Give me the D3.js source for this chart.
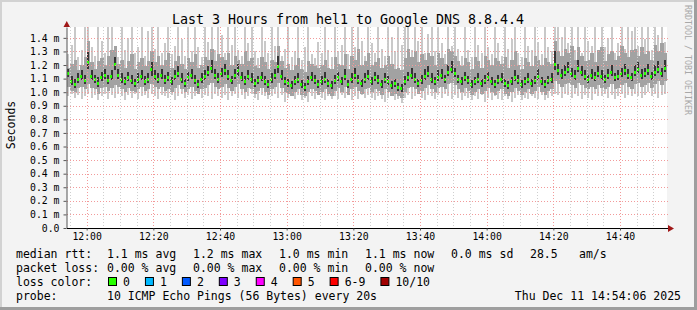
<!DOCTYPE html>
<html>
<head>
<meta charset="utf-8">
<script src="https://cdn.jsdelivr.net/npm/d3@7"></script>
<style>
  body { margin: 0; background: #fff; }
  svg text { font-family: "DejaVu Sans Mono", monospace; fill: #000; }
</style>
</head>
<body>
<svg id="chart" width="697" height="310"></svg>
<script>
// one point per minute starting 11:54:06, values in 1/100 ms
const median = [
  114,108,106,110,112,109,122,112,110,107, 111,113,109,112,121,113,110,108,111,109,
  107,110,112,108,110,117,112,110,113,109, 111,108,112,114,110,107,111,113,109,106,
  110,112,115,118,113,110,114,116,112,109, 113,116,111,108,112,110,107,109,111,108,
  106,110,113,119,112,108,107,105,108,110, 106,104,108,111,109,106,108,110,107,105,
  109,111,108,112,106,110,113,109,107,110, 112,108,111,109,106,110,108,105,107,104,
  103,108,111,113,110,107,109,112,114,110, 108,111,113,110,115,117,114,110,108,111,
  109,106,108,110,107,109,111,108,106,109, 110,107,105,108,111,109,106,108,110,107,
  109,112,108,106,109,110,121,116,113,115, 117,114,112,118,115,112,110,113,111,114,
  112,110,113,115,111,112,114,116,113,111, 115,117,113,114,116,112,115,117,114,118
];
const pingMax = [
  128,135,148,126,131,148,148,133,127,148, 138,129,148,148,134,126,148,131,140,148,
  129,133,148,127,145,148,132,148,129,136, 148,128,134,148,139,127,148,130,148,133,
  126,148,137,148,131,148,142,129,148,135, 148,131,127,148,136,148,130,125,148,138,
  129,148,134,148,127,132,148,126,130,148, 124,133,148,128,125,137,129,148,131,126,
  148,130,135,148,128,148,133,148,138,127, 148,136,129,148,132,127,148,141,130,148,
  135,148,148,131,148,138,148,129,143,148, 130,148,136,128,148,134,148,132,127,148,
  131,126,148,135,129,148,133,128,148,136, 127,148,132,139,148,129,126,148,134,131,
  148,137,128,148,133,130,148,148,141,148, 136,148,131,148,129,148,138,134,148,130,
  148,133,140,148,129,136,148,132,148,145, 148,134,148,139,148,131,148,142,148,137
];
const pingMin = [
  97,99,96,98,95,97,99,96,98,94, 97,99,95,98,96,99,97,94,98,96,
  99,95,97,98,96,99,97,95,98,97, 96,98,94,97,99,96,98,95,97,99,
  96,98,97,95,99,97,96,98,94,97, 99,96,98,95,97,99,96,94,98,97,
  95,97,99,96,98,93,96,97,95,98, 94,96,93,97,95,98,96,94,97,95,
  97,95,98,96,99,94,97,95,98,96, 98,96,94,97,95,93,96,98,94,95,
  92,96,98,95,97,99,96,94,98,97, 95,98,96,99,97,95,98,96,94,97,
  96,94,97,95,98,93,96,94,97,95, 94,97,95,93,96,98,94,96,95,97,
  96,95,98,94,96,97,99,98,96,99, 98,96,99,97,95,98,96,94,99,97,
  97,99,96,98,95,97,99,96,98,97, 99,97,96,98,100,97,99,96,98,99
];
const midHi = [
  118,121,124,116,120,126,138,122,117,123, 125,120,127,131,134,121,124,118,123,128,
  117,122,125,119,123,130,122,127,120,124, 129,118,123,127,121,117,125,122,128,118,
  120,126,124,132,123,128,126,124,129,120, 127,124,121,130,123,125,119,118,126,122,
  117,124,122,134,123,118,121,116,120,125, 117,115,123,121,119,118,120,124,118,117,
  126,121,120,128,117,127,124,132,120,123, 129,120,122,125,118,120,127,121,117,118,
  116,125,132,126,130,122,128,124,129,127, 120,129,125,121,132,130,127,123,119,125,
  122,117,126,123,118,127,124,120,125,123, 121,126,118,124,130,120,117,125,122,119,
  127,124,120,125,122,121,138,130,127,132, 129,134,124,133,127,123,124,129,122,131,
  133,123,128,130,124,127,134,129,126,131, 132,127,133,128,130,124,135,130,136,129
];
const midLo = [
  104,101,100,103,104,102,106,103,102,99, 103,104,101,103,105,104,102,100,103,101,
  100,102,104,101,102,106,104,102,104,101, 102,100,103,105,102,100,102,104,101,99,
  102,103,105,107,104,102,104,106,103,101, 104,106,102,100,103,102,99,101,103,100,
  98,102,104,107,103,100,99,97,100,102, 98,97,100,102,101,98,100,102,99,97,
  101,103,100,104,98,102,104,101,99,102, 103,100,102,101,98,102,100,97,99,97,
  96,100,103,104,102,99,101,103,105,102, 100,103,104,102,106,107,105,102,100,103,
  101,98,100,102,99,101,103,100,98,101, 102,99,97,100,103,101,98,100,102,99,
  101,104,100,98,101,102,108,106,104,106, 107,105,103,107,105,103,102,104,102,105,
  103,102,104,106,102,103,105,107,104,102, 106,107,104,105,107,103,106,108,105,108
];
const innerHi = [
  117,112,110,114,116,113,130,116,113,111, 115,117,113,116,126,117,114,111,115,113,
  110,114,116,112,114,122,116,114,117,113, 115,111,116,119,114,110,115,117,113,109,
  114,116,119,124,117,114,118,121,116,112, 117,121,115,112,116,114,110,112,115,112,
  109,114,117,127,116,111,110,108,112,114, 109,107,112,115,113,109,112,115,110,108,
  113,115,111,117,109,114,118,113,110,114, 116,111,115,113,109,114,112,108,110,107,
  106,112,115,118,114,110,113,117,119,114, 111,116,117,113,120,123,118,113,111,115,
  112,109,111,114,110,113,115,111,109,113, 114,110,108,111,116,113,109,111,114,110,
  112,117,111,109,112,114,130,121,117,120, 122,118,116,124,119,116,113,117,115,119,
  116,113,117,120,114,116,118,121,117,114, 120,122,117,118,121,115,120,123,118,124
];
const innerLo = [
  111,105,103,107,109,106,117,109,107,104, 108,110,106,109,116,110,107,105,108,106,
  104,107,109,105,107,112,109,107,110,106, 108,105,109,111,107,104,108,110,106,103,
  107,109,112,114,110,107,111,113,109,106, 110,112,108,105,109,107,104,106,108,105,
  103,107,110,114,109,105,104,102,105,107, 103,101,105,108,106,103,105,107,104,102,
  106,108,105,109,103,107,110,106,104,107, 109,105,108,106,103,107,105,102,104,101,
  100,105,108,110,107,104,106,109,111,107, 105,108,110,107,112,114,111,107,105,108,
  106,103,105,107,104,106,108,105,103,106, 107,104,102,105,108,106,103,105,107,104,
  106,109,105,103,106,107,116,113,110,112, 114,111,109,115,112,109,107,110,108,111,
  109,107,110,112,108,109,111,113,110,108, 112,114,110,111,113,109,112,114,111,115
];

const yTicks = [0, 0.1, 0.2, 0.3, 0.4, 0.5, 0.6, 0.7, 0.8, 0.9, 1.0, 1.1, 1.2, 1.3, 1.4];
const lossLabels = ["0", "1", "2", "3", "4", "5", "6-9", "10/10"];
const lossColors = ["#26ff00", "#00b8ff", "#0059ff", "#7e00ff", "#ff00ff", "#ff5500", "#ff0000", "#a10000"];
const rttStats = ["1.1 ms avg", "1.2 ms max", "1.0 ms min", "1.1 ms now", "0.0 ms sd", "28.5", "am/s"];
const lossStats = ["0.00 % avg", "0.00 % max", "0.00 % min", "0.00 % now"];

const title = "Last 3 Hours from hel1 to Google DNS 8.8.4.4";
const probeText = "10 ICMP Echo Pings (56 Bytes) every 20s";
const stamp = "Thu Dec 11 14:54:06 2025";

const startTime = new Date(2025, 11, 11, 11, 54, 6);
const endTime = new Date(2025, 11, 11, 14, 54, 6);
const stepMs = 60 * 1000;

const svg = d3.select("#chart");
const plotLeft = 67, plotRight = 667, plotTop = 27, plotBottom = 228;

let x = d3.scaleTime([startTime, endTime], [plotLeft, plotRight]);
let y = d3.scaleLinear([0, 1.48], [plotBottom, plotTop]).clamp(true);

function timeAt(i) {
    return new Date(startTime.getTime() + i * stepMs);
}

// frame
svg.append("rect").attr("width", 697).attr("height", 310).attr("fill", "#f3f3f3");
svg.append("rect").attr("x", 0).attr("y", 0).attr("width", 697).attr("height", 2).attr("fill", "#d2d2d2");
svg.append("rect").attr("x", 0).attr("y", 0).attr("width", 2).attr("height", 310).attr("fill", "#d2d2d2");
svg.append("rect").attr("x", 694).attr("y", 0).attr("width", 3).attr("height", 310).attr("fill", "#9e9e9e");
svg.append("rect").attr("x", 0).attr("y", 307).attr("width", 697).attr("height", 3).attr("fill", "#9e9e9e");

svg.append("rect")
    .attr("x", plotLeft).attr("y", plotTop)
    .attr("width", plotRight - plotLeft).attr("height", plotBottom - plotTop)
    .attr("fill", "#ffffff");

// smoke bands, outer to inner; w = stroke width inside each minute slot (null = full)
function drawBand(lo, hi, color, w) {
    let x0 = i => Math.round(x(timeAt(i)));
    let slot = i => Math.round(x(timeAt(i + 1))) - x0(i);
    svg.append("g")
        .attr("fill", color)
        .attr("shape-rendering", "crispEdges")
        .selectAll("rect")
        .data(d3.range(median.length))
        .join("rect")
        .attr("x", i => w ? x0(i) + Math.floor((slot(i) - w) / 2) : x0(i))
        .attr("width", i => w ? w : slot(i))
        .attr("y", i => y(hi[i] / 100))
        .attr("height", i => y(lo[i] / 100) - y(hi[i] / 100));
}
drawBand(pingMin, pingMax, "#c9c9c9", 2);
drawBand(midLo, midHi, "#a2a2a2", null);
drawBand(innerLo, innerHi, "#363636", 2);

// median rtt, coloured by loss (all 0 here)
svg.append("g")
    .attr("fill", lossColors[0])
    .attr("shape-rendering", "crispEdges")
    .selectAll("rect")
    .data(median)
    .join("rect")
    .attr("x", (d, i) => Math.round(x(timeAt(i))))
    .attr("width", 2)
    .attr("y", d => Math.round(y(d / 100)) - 1)
    .attr("height", 3);

// grid
let grid = svg.append("g").attr("stroke-width", 1).attr("stroke-dasharray", "1,2").attr("fill", "none");
let minorTimes = x.ticks(d3.timeMinute.every(5));
let majorTimes = x.ticks(d3.timeMinute.every(20));
grid.selectAll(".vminor")
    .data(minorTimes.filter(t => t.getMinutes() % 20 != 0))
    .join("line")
    .attr("x1", d => Math.round(x(d)) + 0.5).attr("x2", d => Math.round(x(d)) + 0.5)
    .attr("y1", plotTop).attr("y2", plotBottom)
    .attr("stroke", "#cfcfcf");
grid.selectAll(".vmajor")
    .data(majorTimes)
    .join("line")
    .attr("x1", d => Math.round(x(d)) + 0.5).attr("x2", d => Math.round(x(d)) + 0.5)
    .attr("y1", plotTop).attr("y2", plotBottom)
    .attr("stroke", "#f29a9a");
grid.selectAll(".hmajor")
    .data(yTicks.filter(d => d > 0))
    .join("line")
    .attr("x1", plotLeft).attr("x2", plotRight + 1)
    .attr("y1", d => Math.round(y(d)) + 0.5).attr("y2", d => Math.round(y(d)) + 0.5)
    .attr("stroke", "#f29a9a");

// axes
let yAxis = d3.axisLeft(y)
    .tickValues(yTicks)
    .tickSize(3)
    .tickSizeOuter(0)
    .tickPadding(4)
    .tickFormat(d => d == 0 ? "0.0" : d.toFixed(1) + " m");
svg.append("g")
    .attr("transform", `translate(${plotLeft - 0.5},0)`)
    .call(yAxis)
    .call(g => g.select(".domain").attr("stroke", "#555"))
    .call(g => g.selectAll(".tick line").attr("stroke", "#555"))
    .call(g => g.selectAll("text").attr("font-size", "9.8px").attr("font-family", "DejaVu Sans Mono"));

let xAxis = d3.axisBottom(x)
    .ticks(d3.timeMinute.every(20))
    .tickFormat(d3.timeFormat("%H:%M"))
    .tickSize(2)
    .tickSizeOuter(0)
    .tickPadding(3);
svg.append("g")
    .attr("transform", `translate(0,${plotBottom + 0.5})`)
    .call(xAxis)
    .call(g => g.select(".domain").attr("stroke", "#000").attr("d", `M${plotLeft},0H${plotRight + 2}`))
    .call(g => g.selectAll(".tick line").attr("stroke", "#555"))
    .call(g => g.selectAll("text").attr("font-size", "9.8px").attr("font-family", "DejaVu Sans Mono"));

// arrow heads
svg.append("path")
    .attr("d", `M${plotLeft - 3.5},${plotTop}L${plotLeft + 3},${plotTop}L${plotLeft - 0.25},${plotTop - 6}Z`)
    .attr("fill", "#a01818");
svg.append("path")
    .attr("d", `M${plotRight + 1},${plotBottom - 3}L${plotRight + 1},${plotBottom + 4}L${plotRight + 7},${plotBottom + 0.5}Z`)
    .attr("fill", "#a01818");

// titles
svg.append("text")
    .attr("x", 348).attr("y", 23.5)
    .attr("text-anchor", "middle")
    .attr("font-size", "13.3px")
    .text(title);

svg.append("text")
    .attr("transform", "translate(15,125) rotate(-90)")
    .attr("text-anchor", "middle")
    .attr("font-size", "11.5px")
    .text("Seconds");

svg.append("text")
    .attr("transform", "translate(685,5) rotate(90)")
    .attr("font-size", "8.3px")
    .style("fill", "#a8a8a8")
    .text("RRDTOOL / TOBI OETIKER");

// legend
const legendX = 16, valueX = 107, colStep = 86;
const rowY = [258, 272, 286, 300];
let legend = svg.append("g").attr("font-size", "11.5px");

legend.append("text").attr("x", legendX).attr("y", rowY[0]).text("median rtt:");
legend.selectAll(".rtt")
    .data(rttStats)
    .join("text")
    .attr("x", (d, i) => i < 5 ? valueX + i * colStep : (i == 5 ? 530 : 579))
    .attr("y", rowY[0])
    .text(d => d);

legend.append("text").attr("x", legendX).attr("y", rowY[1]).text("packet loss:");
legend.selectAll(".loss")
    .data(lossStats)
    .join("text")
    .attr("x", (d, i) => valueX + i * colStep)
    .attr("y", rowY[1])
    .text(d => d);

legend.append("text").attr("x", legendX).attr("y", rowY[2]).text("loss color:");
let bx = 108;
lossLabels.forEach((lab, i) => {
    legend.append("rect")
        .attr("x", bx + 0.5).attr("y", rowY[2] - 8.5)
        .attr("width", 8).attr("height", 8)
        .attr("fill", lossColors[i])
        .attr("stroke", "#000");
    let t = legend.append("text").attr("x", bx + 15).attr("y", rowY[2]).text(lab);
    bx += 15 + t.node().getComputedTextLength() + 15;
});

legend.append("text").attr("x", legendX).attr("y", rowY[3]).text("probe:");
legend.append("text").attr("x", valueX).attr("y", rowY[3]).text(probeText);
legend.append("text").attr("x", 681).attr("y", rowY[3]).attr("text-anchor", "end").text(stamp);
</script>
</body>
</html>
